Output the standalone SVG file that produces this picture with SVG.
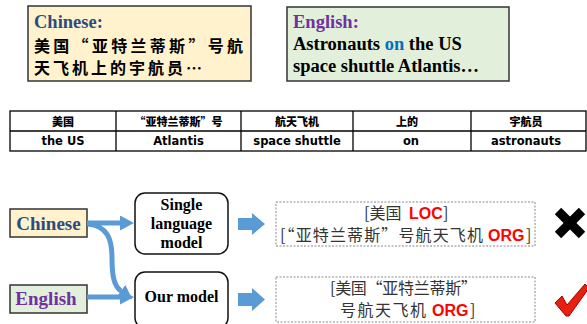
<svg xmlns="http://www.w3.org/2000/svg" width="587" height="324" viewBox="0 0 587 324">
<style>
.ser{font-family:"Liberation Serif","Times New Roman",serif;font-weight:bold}
.cjkb{font-family:"Noto Sans CJK SC",sans-serif;font-weight:bold}
.cjk{font-family:"Noto Sans CJK SC",sans-serif;font-weight:normal;fill:#333;font-size:16px}
.tbl{font-family:"DejaVu Sans",Verdana,sans-serif;font-weight:bold;font-size:11.5px;text-anchor:middle}
.tblh{font-family:"Noto Sans CJK SC",sans-serif;font-weight:900;font-size:11px;text-anchor:middle}
.tag{font-family:"Liberation Sans",Arial,sans-serif;font-weight:bold;fill:#ff0000;font-size:16px}
.box{stroke:#333;stroke-width:1.5}
.model{fill:#fff;stroke:#111;stroke-width:1.5}
.dash{fill:#fff;stroke:#888;stroke-width:1;stroke-dasharray:2 1.5}
.conn{fill:none;stroke:#5B9BD5;stroke-width:5}
.blk{fill:#5B9BD5}
.cn{fill:#2F4A7D}
.en{fill:#7030A0}
</style>
<defs>
<marker id="ah" markerUnits="userSpaceOnUse" markerWidth="14" markerHeight="15" refX="0" refY="7.5" orient="auto">
<path d="M0,0 L14,7.5 L0,15 Z" fill="#5B9BD5"/>
</marker>
</defs>

<g id="zh-source">
<rect x="28" y="6" width="223" height="75" fill="#FFF2CC" class="box"/>
<text x="34" y="28" class="ser cn" font-size="18.5">Chinese:</text>
<text x="34" y="52" class="cjkb" font-size="16" textLength="209" lengthAdjust="spacing">美国“亚特兰蒂斯”号航</text>
<text x="34" y="74" class="cjkb" font-size="16" textLength="168" lengthAdjust="spacing">天飞机上的宇航员…</text>
</g>

<g id="en-source">
<rect x="287" y="7" width="222" height="74" fill="#E2EFDA" class="box"/>
<text x="293" y="28" class="ser en" font-size="18.5">English:</text>
<text x="293" y="50" class="ser" font-size="18.5">Astronauts <tspan fill="#0070C0">on</tspan> the US</text>
<text x="293" y="72" class="ser" font-size="18.5">space shuttle Atlantis…</text>
</g>

<g id="alignment-table">
<rect x="10" y="111" width="576" height="40" fill="#fff" stroke="#000" stroke-width="1.3"/>
<line x1="10" y1="131" x2="586" y2="131" stroke="#000" stroke-width="1.3"/>
<line x1="116" y1="111" x2="116" y2="151" stroke="#000" stroke-width="1.3"/>
<line x1="241" y1="111" x2="241" y2="151" stroke="#000" stroke-width="1.3"/>
<line x1="353" y1="111" x2="353" y2="151" stroke="#000" stroke-width="1.3"/>
<line x1="471" y1="111" x2="471" y2="151" stroke="#000" stroke-width="1.3"/>
<text x="63" y="126" class="tblh">美国</text>
<text x="178.5" y="126" class="tblh">“亚特兰蒂斯”号</text>
<text x="297" y="126" class="tblh">航天飞机</text>
<text x="407" y="126" class="tblh">上的</text>
<text x="526" y="126" class="tblh">宇航员</text>
<text x="63" y="145" class="tbl">the US</text>
<text x="178.5" y="145" class="tbl">Atlantis</text>
<text x="297" y="145" class="tbl">space shuttle</text>
<text x="411" y="145" class="tbl">on</text>
<text x="526" y="145" class="tbl">astronauts</text>
</g>

<g id="chinese-input">
<rect x="10" y="209" width="77" height="28" fill="#FFF2CC" class="box"/>
<text x="48.5" y="230" class="ser cn" font-size="19" text-anchor="middle">Chinese</text>
</g>

<g id="english-input">
<rect x="10" y="285" width="77" height="28" fill="#E2EFDA" class="box"/>
<text x="46" y="305" class="ser en" font-size="19" text-anchor="middle">English</text>
</g>

<g id="single-model">
<rect x="135" y="193" width="93" height="61" rx="10" class="model"/>
<text x="181.5" y="210" class="ser" font-size="16" text-anchor="middle">Single</text>
<text x="181.5" y="229" class="ser" font-size="16" text-anchor="middle">language</text>
<text x="181.5" y="248" class="ser" font-size="16" text-anchor="middle">model</text>
</g>

<g id="our-model">
<rect x="135" y="272" width="93" height="56" rx="10" class="model"/>
<text x="181.5" y="302" class="ser" font-size="16" text-anchor="middle">Our model</text>
</g>

<g id="single-output">
<rect x="276" y="202" width="259" height="44" class="dash"/>
<text x="364" y="219" class="cjk">[美国</text>
<text x="409" y="219" class="tag">LOC</text>
<text x="443" y="219" class="cjk">]</text>
<text x="280" y="241" class="cjk" textLength="203" lengthAdjust="spacing">[“亚特兰蒂斯”号航天飞机</text>
<text x="488" y="241" class="tag">ORG</text>
<text x="526" y="241" class="cjk">]</text>
</g>

<g id="our-output">
<rect x="276" y="277" width="259" height="45" class="dash"/>
<text x="330" y="294" class="cjk" textLength="147" lengthAdjust="spacing">[美国“亚特兰蒂斯”</text>
<text x="340" y="316" class="cjk" textLength="86" lengthAdjust="spacing">号航天飞机</text>
<text x="432" y="316" class="tag">ORG</text>
<text x="470" y="316" class="cjk">]</text>
</g>

<g id="wrong-mark">
<line x1="558" y1="211" x2="582" y2="235" stroke="#000" stroke-width="9"/>
<line x1="582" y1="211" x2="558" y2="235" stroke="#000" stroke-width="9"/>
</g>

<g id="right-mark">
<path d="M555,303 L562,296 L567,305 L585,284 L589,288 L569,316 L566,316 Z" fill="#E8200F" stroke="#A00000" stroke-width="1"/>
</g>

<g id="connectors">
<path d="M87,223 L120,223" class="conn" marker-end="url(#ah)"/>
<path d="M87,297 L120,297" class="conn" marker-end="url(#ah)"/>
<path d="M88,224 C108,226 112,240 112,258 C112,276 114,286 121,291" class="conn" marker-end="url(#ah)"/>
<polygon points="238,218 252,218 252,213 265,224 252,235 252,230 238,230" class="blk"/>
<polygon points="238,293 252,293 252,288 265,299.5 252,311 252,306 238,306" class="blk"/>
</g>
</svg>
